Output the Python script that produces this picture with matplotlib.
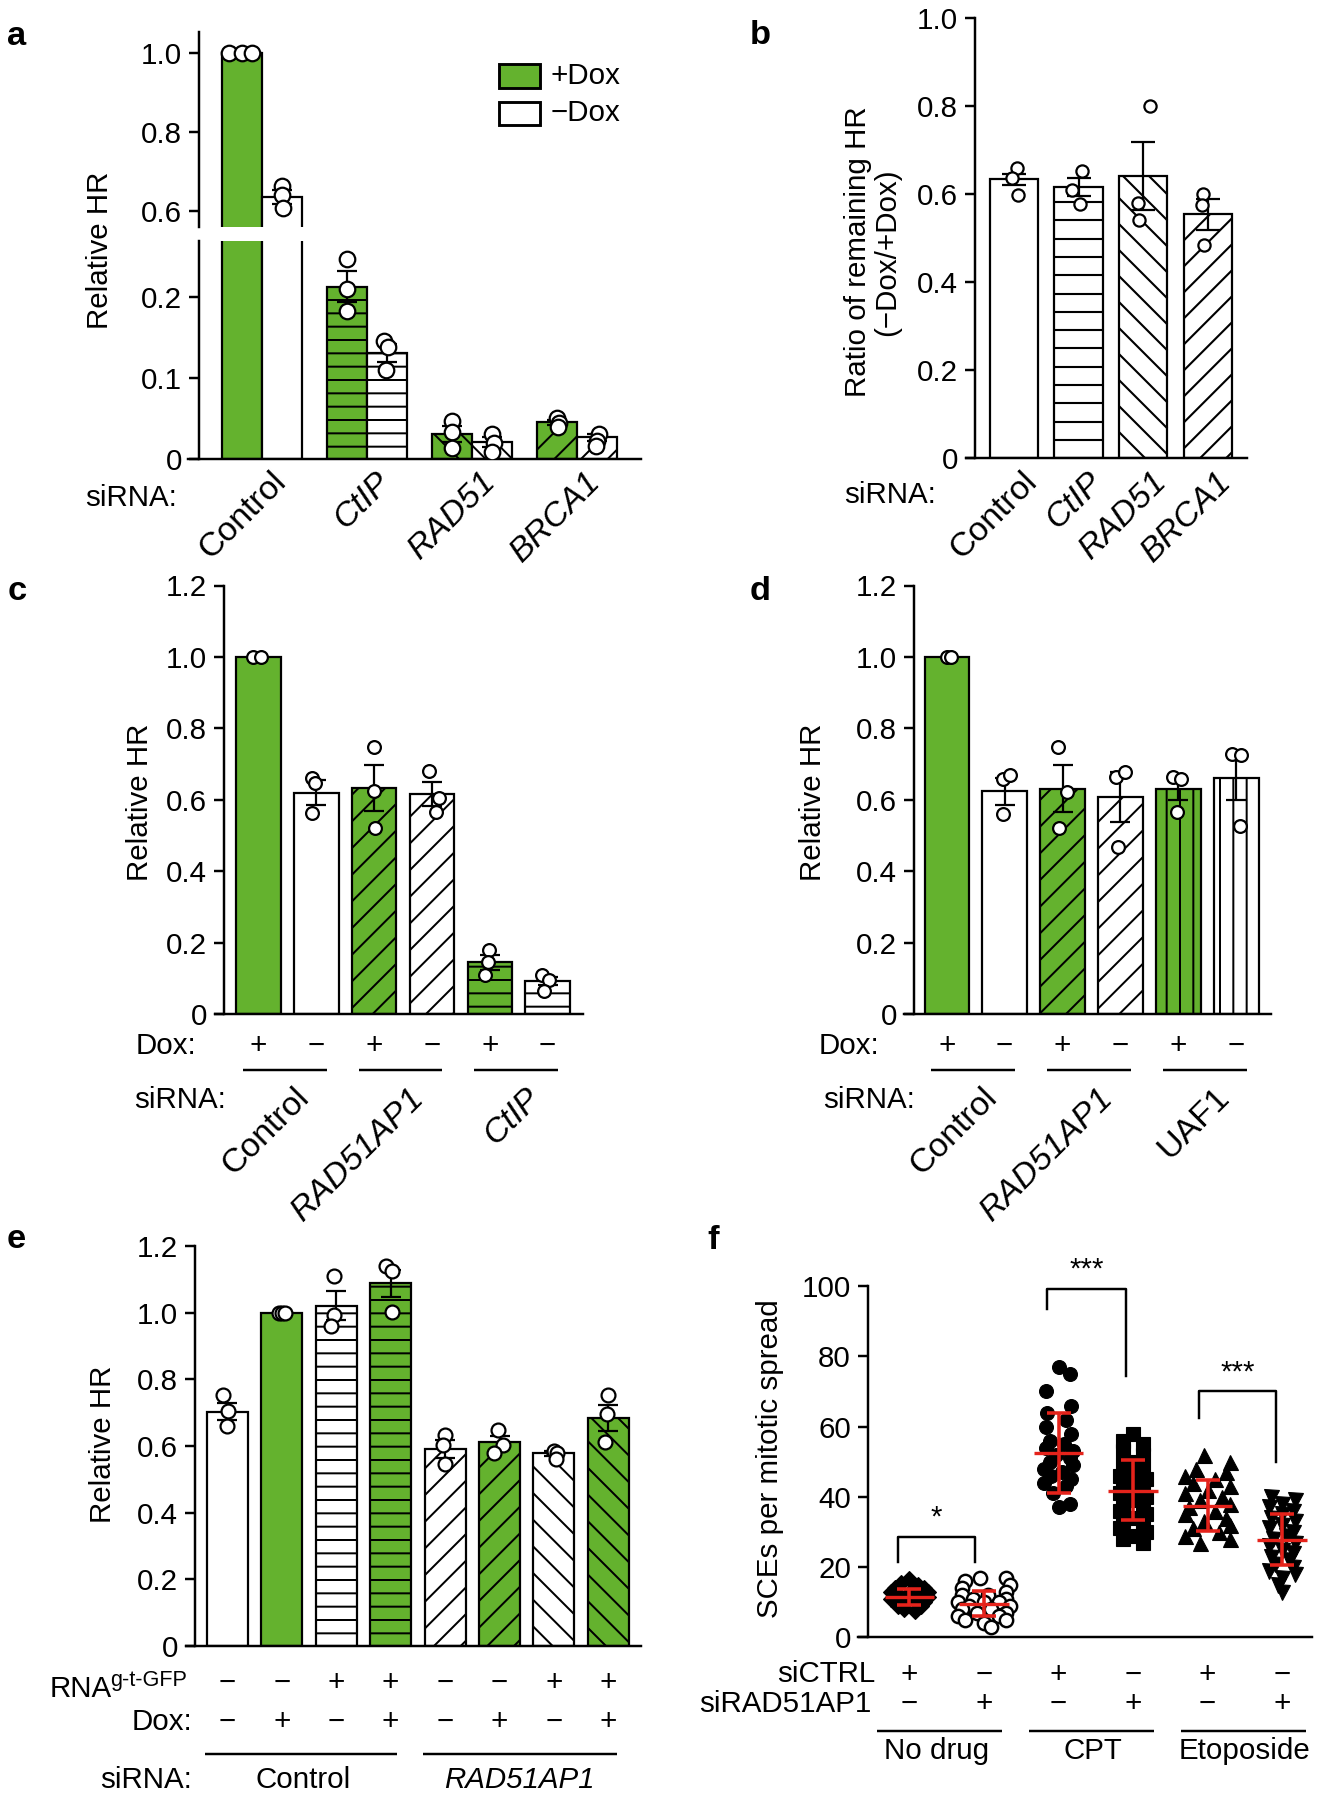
import matplotlib
matplotlib.use('Agg')
import matplotlib.pyplot as plt
from matplotlib import transforms
from matplotlib.patches import Rectangle
from matplotlib.collections import LineCollection

W, H, DPI = 1324, 1800, 80
FS = 26.5
FS_ROT = 30.5
plt.rcParams['font.family'] = ['Liberation Sans', 'DejaVu Sans']
plt.rcParams['font.size'] = FS
plt.rcParams['hatch.linewidth'] = 1.8
plt.rcParams['axes.linewidth'] = 2.2

GREEN = '#64b22e'
RED = '#e5231b'
LW = 2.0

# ---------------- data ----------------
# panel a
a_genes = ['Control', 'CtIP', 'RAD51', 'BRCA1']
a_italic = [False, True, True, True]
a_plus = [1.0, 0.2125, 0.0305, 0.0447]
a_minus = [0.636, 0.1308, 0.0208, 0.0261]
a_plus_err = [0.0, 0.019, 0.010, 0.003]
a_minus_err = [0.017, 0.011, 0.006, 0.004]
a_plus_pts = [[1.0, 1.0, 1.0], [0.2475, 0.210, 0.183], [0.046, 0.0328, 0.0128], [0.0504, 0.0439, 0.0395]]
a_minus_pts = [[0.665, 0.642, 0.608], [0.1454, 0.138, 0.110], [0.0305, 0.0195, 0.0084], [0.0305, 0.0217, 0.0151]]
a_plus_jit = [[-0.12, 0.0, 0.10], [0.0, 0.0, 0.0], [0.0, 0.0, 0.0], [0.0, 0.02, 0.01]]
a_minus_jit = [[0.0, 0.0, 0.01], [-0.03, 0.01, -0.01], [0.0, 0.02, 0.0], [0.02, 0.0, -0.01]]
a_hatch = ['', '-', '\\', '/']

# panel b
b_genes = ['Control', 'CtIP', 'RAD51', 'BRCA1']
b_ratio = [0.633, 0.616, 0.641, 0.554]
b_err = [0.012, 0.021, 0.078, 0.035]
b_pts = [[0.6595, 0.6375, 0.5987], [0.653, 0.6084, 0.5767], [0.80, 0.580, 0.540], [0.599, 0.574, 0.485]]
b_jit = [[0.05, -0.03, 0.07], [0.05, -0.10, 0.03], [0.10, -0.08, -0.06], [-0.08, -0.10, -0.07]]
b_hatch = ['', '-', '\\', '/']

# panel c
c_groups = ['Control', 'RAD51AP1', 'CtIP']
c_group_italic = [False, True, True]
c_dox = ['+', '\u2212', '+', '\u2212', '+', '\u2212']
c_vals = [1.0, 0.620, 0.633, 0.616, 0.144, 0.092]
c_err = [0.0, 0.035, 0.065, 0.033, 0.022, 0.010]
c_pts = [[1.0, 1.0], [0.662, 0.646, 0.563], [0.749, 0.6235, 0.5216], [0.679, 0.6036, 0.566],
         [0.180, 0.145, 0.108], [0.108, 0.095, 0.064]]
c_jit = [[-0.09, 0.05], [-0.07, -0.03, -0.07], [0.0, 0.0, 0.02], [-0.06, 0.12, 0.07],
         [-0.02, -0.04, -0.08], [-0.09, 0.02, -0.06]]
c_colors = [GREEN, 'white', GREEN, 'white', GREEN, 'white']
c_hatch = ['', '', '/', '/', '-', '-']

# panel d
d_groups = ['Control', 'RAD51AP1', 'UAF1']
d_group_italic = [False, True, False]
d_dox = ['+', '\u2212', '+', '\u2212', '+', '\u2212']
d_vals = [1.0, 0.6235, 0.631, 0.607, 0.631, 0.660]
d_err = [0.0, 0.037, 0.066, 0.070, 0.033, 0.062]
d_pts = [[1.0, 1.0], [0.657, 0.668, 0.5605], [0.749, 0.6215, 0.5216], [0.6645, 0.677, 0.468],
         [0.6645, 0.659, 0.566], [0.729, 0.7255, 0.526]]
d_jit = [[0.0, 0.07], [-0.03, 0.09, -0.03], [-0.08, 0.08, -0.06], [-0.08, 0.08, -0.05],
         [-0.09, 0.05, -0.02], [-0.07, 0.09, 0.06]]
d_colors = [GREEN, 'white', GREEN, 'white', GREEN, 'white']
d_hatch = ['', '', '/', '/', '|', '|']

# panel e
e_groups = ['Control', 'RAD51AP1']
e_rna = ['\u2212', '\u2212', '+', '+', '\u2212', '\u2212', '+', '+']
e_dox = ['\u2212', '+', '\u2212', '+', '\u2212', '+', '\u2212', '+']
e_vals = [0.703, 1.0, 1.0205, 1.088, 0.5895, 0.611, 0.578, 0.684]
e_err = [0.025, 0.0, 0.044, 0.041, 0.027, 0.019, 0.007, 0.040]
e_pts = [[0.7526, 0.7033, 0.6607], [1.0, 1.0, 1.0], [1.111, 0.994, 0.9595], [1.141, 1.126, 1.0033],
         [0.632, 0.603, 0.546], [0.649, 0.603, 0.578], [0.586, 0.578, 0.5617], [0.7526, 0.695, 0.612]]
e_jit = [[-0.08, 0.01, 0.0], [-0.05, 0.0, 0.05], [-0.05, -0.05, -0.09], [-0.08, 0.02, 0.02],
         [0.0, -0.03, 0.0], [-0.02, 0.06, -0.1], [0.0, 0.05, 0.03], [0.0, -0.02, -0.07]]
e_colors = ['white', GREEN, 'white', GREEN, 'white', GREEN, 'white', GREEN]
e_hatch = ['', '', '-', '-', '/', '/', '\\', '\\']

# panel f
f_groups = ['No drug', 'CPT', 'Etoposide']
f_sictrl = ['+', '\u2212', '+', '\u2212', '+', '\u2212']
f_sirad = ['\u2212', '+', '\u2212', '+', '\u2212', '+']
f_v1 = [16.5, 15.5, 15, 14, 14, 13, 13, 12.5, 12, 12, 11.5, 11, 11, 10.5, 10, 10, 9, 9, 8, 7.5]
f_o1 = [0.0, -0.12, 0.12, -0.2, 0.2, -0.25, 0.25, 0.0, -0.15, 0.15, 0.25, -0.25, 0.05, -0.2, 0.2,
        -0.05, -0.15, 0.15, -0.07, 0.07]
f_v2 = [17, 17, 16, 15, 14, 13, 12, 12, 11, 11, 10, 10, 10, 9, 9, 8, 8, 7, 7, 6, 6, 5, 5, 4, 3]
f_o2 = [-0.05, 0.3, -0.25, 0.35, -0.3, 0.3, -0.3, 0.05, -0.15, 0.3, -0.35, 0.0, 0.2, -0.2, 0.35,
        -0.3, 0.1, -0.1, 0.3, -0.35, 0.2, -0.25, 0.3, 0.0, 0.1]
f_v3 = [77, 75, 70, 66, 64, 62, 60, 58, 56, 55, 54, 53, 52, 51, 50, 49, 48, 47, 46, 45, 44, 43, 41, 38, 37]
f_o3 = [0.0, 0.15, -0.17, 0.17, -0.15, 0.1, -0.17, 0.17, -0.12, 0.07, -0.17, 0.2, -0.03, 0.15, -0.12,
        0.2, -0.2, 0.05, -0.1, 0.17, -0.2, 0.1, -0.07, 0.15, 0.0]
f_v4 = [58, 56, 55, 53, 52, 50, 49, 48, 47, 46, 45, 44, 43, 42, 41, 40, 39, 38, 37, 36, 35, 34, 33,
        32, 31, 30, 29, 28, 27]
f_o4 = [0, -0.14, 0.14, -0.14, 0.14, 0, -0.14, 0.14, 0, -0.17, 0.17, 0, -0.14, 0.14, -0.17, 0.17, 0,
        -0.14, 0.14, -0.17, 0.17, 0, -0.14, 0.14, -0.17, 0.17, 0, -0.14, 0.14]
f_v5 = [52, 50, 48, 47, 46, 45, 44, 43, 42, 41, 40, 39, 38, 37, 36, 35, 34, 33, 32, 31, 30, 29, 28, 27]
f_o5 = [-0.05, 0.3, -0.15, 0.25, -0.3, 0.1, -0.2, 0.3, 0.0, -0.3, 0.2, -0.1, 0.3, -0.25, 0.1, -0.3,
        0.25, -0.05, 0.3, -0.2, 0.15, -0.3, 0.3, -0.1]
f_v6 = [40, 39, 38, 37, 36, 35, 34, 33, 32, 31, 30, 29, 28, 27, 26, 25, 24, 23, 22, 21, 20, 19, 18,
        17, 15, 13]
f_o6 = [-0.15, 0.17, 0.0, -0.17, 0.15, 0.0, -0.15, 0.17, 0.0, -0.17, 0.15, 0.05, -0.12, 0.17, -0.17,
        0.0, 0.15, -0.15, 0.1, -0.1, 0.15, -0.17, 0.17, 0.0, -0.05, 0.0]
f_mean = [11.4, 9.6, 52.6, 41.7, 37.3, 27.8]
f_lo = [9.3, 6.0, 41.2, 33.4, 30.3, 20.5]
f_hi = [13.9, 13.2, 64.0, 50.4, 44.7, 35.0]

# ---------------- helpers ----------------
fig = plt.figure(figsize=(W / DPI, H / DPI), dpi=DPI)


def add_ax(l, t, r, b, inward):
    ax = fig.add_axes([l / W, 1 - b / H, (r - l) / W, (b - t) / H])
    ax.patch.set_alpha(0)
    for s in ['top', 'right']:
        ax.spines[s].set_visible(False)
    ax.spines['left'].set_position(('outward', -inward * 72 / DPI))
    ax.tick_params(axis='y', direction='out', length=9, width=2.2, pad=6, labelsize=FS)
    ax.set_xticks([])
    return ax


def ftext(x, y, s, **kw):
    fig.text(x / W, 1 - y / H, s, **kw)


def blend(ax, dx=0):
    tr = transforms.blended_transform_factory(ax.transData, fig.transFigure)
    if dx:
        tr = tr + transforms.ScaledTranslation(dx / DPI, 0, fig.dpi_scale_trans)
    return tr


def xtext(ax, xd, ypx, s, dx=0, **kw):
    ax.text(xd, 1 - ypx / H, s, transform=blend(ax, dx), clip_on=False, **kw)


def xline(ax, x0, x1, ypx):
    ax.plot([x0, x1], [1 - ypx / H] * 2, transform=blend(ax), color='black', lw=2.2,
            clip_on=False, solid_capstyle='butt')


def draw_bars(ax, xs, vals, errs, colors, hatches, width, pts, jit, ms, capsize):
    patches = []
    for x, v, c, h in zip(xs, vals, colors, hatches):
        p = ax.bar(x, v, width, color=c, edgecolor='black', linewidth=LW, hatch=h, zorder=2)
        patches.append(p[0])
    ex = [x for x, e in zip(xs, errs) if e > 0]
    ev = [v for v, e in zip(vals, errs) if e > 0]
    ee = [e for e in errs if e > 0]
    ax.errorbar(ex, ev, yerr=ee, fmt='none', ecolor='black', elinewidth=2.0,
                capsize=capsize, capthick=2.0, zorder=3)
    for x, ps, js in zip(xs, pts, jit):
        ax.plot([x + j for j in js], ps, linestyle='none', marker='o', ms=ms, mfc='white',
                mec='black', mew=2.0, zorder=4)
    return patches


def manual_hatch(ax, patch, kind, sp):
    # hatch lines clipped analytically to the bar rectangle (display pixels)
    x0, y0 = ax.transData.transform((patch.get_x(), patch.get_y()))
    x1, y1 = ax.transData.transform((patch.get_x() + patch.get_width(), patch.get_y() + patch.get_height()))
    segs = []
    if kind == '-':
        y = y0 + sp
        while y < y1:
            segs.append([(x0, y), (x1, y)])
            y += sp
    elif kind in ('/', '\\'):
        h = y1 - y0
        c = x0 - h
        while c < x1:
            xs_, xe_ = max(x0, c), min(x1, c + h)
            if xe_ > xs_:
                if kind == '/':
                    segs.append([(xs_, y0 + xs_ - c), (xe_, y0 + xe_ - c)])
                else:
                    segs.append([(xs_, y1 - (xs_ - c)), (xe_, y1 - (xe_ - c))])
            c += sp
    if segs:
        lc = LineCollection(segs, colors='black', linewidths=1.9,
                            transform=transforms.IdentityTransform(), zorder=2.5)
        ax.add_collection(lc, autolim=False)


def yticks(ax, ticks, labels):
    ax.set_yticks(ticks)
    ax.set_yticklabels(labels)


# ---------------- panel a ----------------
a_x = list(range(len(a_genes)))
aw = 0.38
a_up = add_ax(187.9, 32.1, 640.9, 227.1, 11)
a_lo = add_ax(187.9, 241.0, 640.9, 458.5, 11)
a_up.spines['bottom'].set_visible(False)
for ax, lim in [(a_up, (0.5601, 1.0525)), (a_lo, (0, 0.2692))]:
    ax.set_xlim(-0.705, 3.61)
    ax.set_ylim(*lim)
    draw_bars(ax, [x - aw / 2 for x in a_x], a_plus, a_plus_err, [GREEN] * 4, a_hatch, aw,
              a_plus_pts, a_plus_jit, 14, 9)
    draw_bars(ax, [x + aw / 2 for x in a_x], a_minus, a_minus_err, ['white'] * 4, a_hatch, aw,
              a_minus_pts, a_minus_jit, 14, 9)
yticks(a_up, [0.6, 0.8, 1.0], ['0.6', '0.8', '1.0'])
yticks(a_lo, [0, 0.1, 0.2], ['0', '0.1', '0.2'])
ftext(100, 250, 'Relative HR', rotation=90, ha='center', va='center')
ftext(177, 498, 'siRNA:', ha='right', va='center')
for x, g, it in zip(a_x, a_genes, a_italic):
    xtext(a_lo, x, 466, g, dx=8, rotation=45, rotation_mode='anchor', ha='right', va='top',
          fontsize=FS_ROT, style='italic' if it else 'normal')
# legend
for yy, col, lab in [(64.3, GREEN, '+Dox'), (101.8, 'white', '\u2212Dox')]:
    fig.add_artist(Rectangle((499 / W, 1 - (yy + 23.2) / H), 41 / W, 23.2 / H, transform=fig.transFigure,
                             facecolor=col, edgecolor='black', linewidth=2.6))
    ftext(551, yy + 11.6, lab, ha='left', va='center')

# ---------------- panel b ----------------
b_x = list(range(len(b_genes)))
bax = add_ax(966, 17.9, 1246.8, 458.2, 8.9)
bax.set_xlim(-0.736, 3.597)
bax.set_ylim(0, 1.0)
b_patches = draw_bars(bax, b_x, b_ratio, b_err, ['white'] * 4, [''] * 4, 0.745, b_pts, b_jit, 11, 11)
for p, hk in zip(b_patches, b_hatch):
    if hk:
        manual_hatch(bax, p, hk, 18.3 if hk == '-' else 26)
yticks(bax, [0, 0.2, 0.4, 0.6, 0.8, 1.0], ['0', '0.2', '0.4', '0.6', '0.8', '1.0'])
ftext(873, 252, 'Ratio of remaining HR\n(\u2212Dox/+Dox)', rotation=90, ha='center', va='center',
      multialignment='center', linespacing=1.05)
ftext(936.4, 494.6, 'siRNA:', ha='right', va='center')
for x, g, it in zip(b_x, b_genes, a_italic):
    xtext(bax, x, 466, g, dx=8, rotation=45, rotation_mode='anchor', ha='right', va='top',
          fontsize=FS_ROT, style='italic' if it else 'normal')


# ---------------- panels c & d ----------------
def cd_panel(l, r, inward, xlim, vals, errs, colors, hatches, pts, jit, dox, groups, gital,
             dox_x, sirna_x, ylab_x):
    ax = add_ax(l, 585.5, r, 1013.9, inward)
    ax.set_xlim(*xlim)
    ax.set_ylim(0, 1.2)
    xs = list(range(len(vals)))
    draw_bars(ax, xs, vals, errs, colors, hatches, 0.77, pts, jit, 11.5, 9)
    yticks(ax, [0, 0.2, 0.4, 0.6, 0.8, 1.0, 1.2], ['0', '0.2', '0.4', '0.6', '0.8', '1.0', '1.2'])
    ftext(ylab_x, 802, 'Relative HR', rotation=90, ha='center', va='center')
    ftext(dox_x, 1046.3, 'Dox:', ha='right', va='center')
    ftext(sirna_x, 1099.7, 'siRNA:', ha='right', va='center')
    for x, s in zip(xs, dox):
        xtext(ax, x, 1046.3, s, ha='center', va='center')
    for gi, (g, it) in enumerate(zip(groups, gital)):
        x0 = 2 * gi
        xline(ax, x0 - 0.27, x0 + 1.18, 1070)
        xtext(ax, x0 + 0.5, 1082, g, dx=6, rotation=45, rotation_mode='anchor', ha='right',
              va='top', fontsize=FS_ROT, style='italic' if it else 'normal')
    return ax


cax = cd_panel(215.3, 582.6, 8.5, (-0.749, 5.605), c_vals, c_err, c_colors, c_hatch, c_pts, c_jit,
               c_dox, c_groups, c_group_italic, 196, 225.9, 140.4)
dax = cd_panel(903.5, 1271.2, 10.1, (-0.748, 5.603), d_vals, d_err, d_colors, d_hatch, d_pts, d_jit,
               d_dox, d_groups, d_group_italic, 879, 914.5, 813)

# ---------------- panel e ----------------
eax = add_ax(185.8, 1246.0, 640.9, 1645.8, 9.2)
eax.set_xlim(-0.764, 7.597)
eax.set_ylim(0, 1.2)
e_x = list(range(len(e_vals)))
draw_bars(eax, e_x, e_vals, e_err, e_colors, e_hatch, 0.753, e_pts, e_jit, 12.5, 9)
yticks(eax, [0, 0.2, 0.4, 0.6, 0.8, 1.0, 1.2], ['0', '0.2', '0.4', '0.6', '0.8', '1.0', '1.2'])
ftext(102.8, 1444, 'Relative HR', rotation=90, ha='center', va='center')
ftext(112, 1697, 'RNA', ha='right', va='baseline')
ftext(110, 1686, 'g-t-GFP', ha='left', va='baseline', fontsize=19.5)
ftext(192, 1722.4, 'Dox:', ha='right', va='center')
ftext(192, 1779.8, 'siRNA:', ha='right', va='center')
for x, s1, s2 in zip(e_x, e_rna, e_dox):
    xtext(eax, x, 1683, s1, ha='center', va='center')
    xtext(eax, x, 1722.4, s2, ha='center', va='center')
xline(eax, -0.415, 3.11, 1753.8)
xline(eax, 3.60, 7.15, 1753.8)
xtext(eax, 1.39, 1779.8, e_groups[0], ha='center', va='center')
xtext(eax, 5.36, 1779.8, e_groups[1], ha='center', va='center', style='italic')

# ---------------- panel f ----------------
fax = add_ax(858.3, 1286.1, 1312.2, 1637.4, 9.3)
fax.set_xlim(-0.687, 5.405)
fax.set_ylim(0, 100)
yticks(fax, [0, 20, 40, 60, 80, 100], ['0', '20', '40', '60', '80', '100'])
groups_f = [(f_v1, f_o1, dict(marker='D', ms=10, mfc='black', mec='black')),
            (f_v2, f_o2, dict(marker='o', ms=12, mfc='white', mec='black', mew=2.2)),
            (f_v3, f_o3, dict(marker='o', ms=12.5, mfc='black', mec='black')),
            (f_v4, f_o4, dict(marker='s', ms=12, mfc='black', mec='black')),
            (f_v5, f_o5, dict(marker='^', ms=13.5, mfc='black', mec='black')),
            (f_v6, f_o6, dict(marker='v', ms=13.5, mfc='black', mec='black'))]
for gi, (vv, oo, st) in enumerate(groups_f):
    fax.plot([gi + o for o in oo], vv, linestyle='none', zorder=3, clip_on=False, **st)
f_x = list(range(6))
fax.errorbar(f_x, f_mean, yerr=[[m - lo for m, lo in zip(f_mean, f_lo)],
                                [hi - m for m, hi in zip(f_mean, f_hi)]],
             fmt='none', ecolor=RED, elinewidth=3.2, capsize=10.5, capthick=3.2, zorder=5)
fax.hlines(f_mean, [x - 0.33 for x in f_x], [x + 0.33 for x in f_x], color=RED, lw=3.0, zorder=5)
# significance brackets
for (x0, x1, ytop, yl, yr, lab) in [(-0.15, 0.88, 28.6, 21.5, 21.5, '*'),
                                     (1.85, 2.91, 99.2, 93.5, 74.4, '***'),
                                     (3.89, 4.92, 70.0, 62.4, 49.9, '***')]:
    fax.plot([x0, x0, x1, x1], [yl, ytop, ytop, yr], color='black', lw=2.2, clip_on=False, zorder=4)
    fax.text((x0 + x1) / 2, ytop + 1.5, lab, ha='center', va='bottom', fontsize=FS, clip_on=False)
ftext(769.7, 1458.3, 'SCEs per mitotic spread', rotation=90, ha='center', va='center')
ftext(875.2, 1674.5, 'siCTRL', ha='right', va='center')
ftext(871, 1704.4, 'siRAD51AP1', ha='right', va='center')
for x, s1, s2 in zip(f_x, f_sictrl, f_sirad):
    xtext(fax, x, 1674.5, s1, ha='center', va='center')
    xtext(fax, x, 1704.4, s2, ha='center', va='center')
for (x0, x1), (xc, g) in zip([(-0.44, 1.24), (1.60, 3.28), (3.64, 5.32)],
                             zip([0.37, 2.46, 4.50], f_groups)):
    xline(fax, x0, x1, 1731.2)
    xtext(fax, xc, 1751, g, ha='center', va='center')

# ---------------- panel letters ----------------
for (x, y, s) in [(7, 44.6, 'a'), (750, 43.9, 'b'), (8, 599.5, 'c'), (750, 599.5, 'd'),
                  (7, 1247.8, 'e'), (707, 1249, 'f')]:
    ftext(x, y, s, fontsize=31, fontweight='bold', ha='left', va='baseline')

fig.savefig('out.png', dpi=DPI)
